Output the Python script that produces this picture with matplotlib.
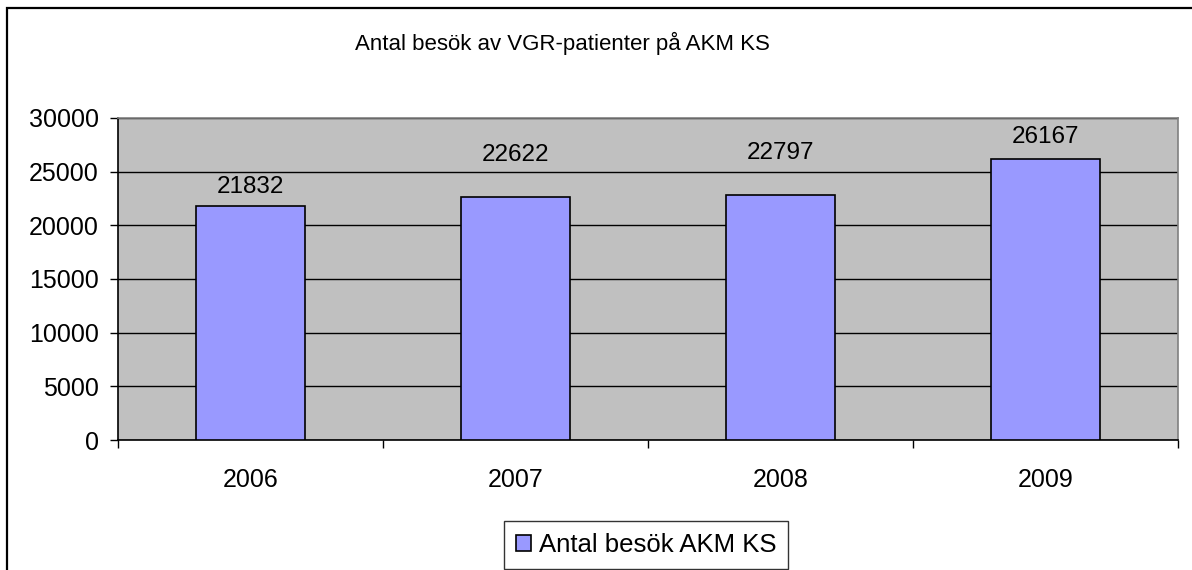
import matplotlib.pyplot as plt
from matplotlib.patches import Rectangle

# data
years = ["2006", "2007", "2008", "2009"]
besok = [21832, 22622, 22797, 26167]
serie_namn = "Antal besök AKM KS"
titel = "Antal besök av VGR-patienter på AKM KS"

# label offsets above bar top (pixels), Excel placed them unevenly
label_offset_px = [17, 41, 41, 21]

W, H = 1192, 570
plt.rcParams['font.family'] = ['Liberation Sans', 'DejaVu Sans']
fs = 18

fig = plt.figure(figsize=(W / 100, H / 100), dpi=100)

# outer chart frame (cut off at right and bottom like the original)
fig.patches.append(Rectangle((7 / W, -0.1), 1.2, 1.1 - 8 / H, transform=fig.transFigure,
                             fill=False, edgecolor='black', linewidth=1.6))

ax = fig.add_axes([118 / W, (H - 440) / H, 1060 / W, 322 / H])
ax.set_facecolor('#C0C0C0')

x = range(len(years))
bars = ax.bar(x, besok, width=0.41, color='#9999FF', edgecolor='black', linewidth=1.2,
              label=serie_namn, zorder=3)

for i, b in enumerate(bars):
    ax.annotate(str(besok[i]), (b.get_x() + b.get_width() / 2, b.get_height()),
                xytext=(0, label_offset_px[i] * 0.72 + 1), textcoords='offset points',
                ha='center', va='center', fontsize=17.5, zorder=4)

ax.set_xlim(-0.5, 3.5)
ax.set_ylim(0, 30000)
ax.set_yticks(range(0, 30001, 5000))
ax.yaxis.grid(True, color='black', linewidth=1.0, zorder=1)
ax.set_axisbelow(True)

ax.set_xticks(list(x))
ax.set_xticklabels(years)
ax.set_xticks([-0.5, 0.5, 1.5, 2.5, 3.5], minor=True)
ax.tick_params(axis='x', which='major', length=0, pad=20, labelsize=fs)
ax.tick_params(axis='x', which='minor', length=5.8, width=1, direction='out', color='black')
ax.tick_params(axis='y', length=5.8, width=1, direction='out', pad=8, labelsize=fs)

ax.spines['left'].set_color('black')
ax.spines['bottom'].set_color('black')
ax.spines['top'].set_color('#808080')
ax.spines['right'].set_color('#808080')
for s in ax.spines.values():
    s.set_linewidth(1.2)

fig.text(562 / W, 1 - 43 / H, titel, ha='center', va='center', fontsize=16)

leg = ax.legend(loc='center', bbox_to_anchor=(646 / W, 1 - 545 / H), bbox_transform=fig.transFigure,
                frameon=True, fancybox=False, fontsize=18.5, handlelength=0.6, handleheight=0.6,
                handletextpad=0.3, borderpad=0.45, borderaxespad=0)
leg.get_frame().set_edgecolor('black')
leg.get_frame().set_linewidth(1.0)

fig.savefig('out.png', dpi=100)
